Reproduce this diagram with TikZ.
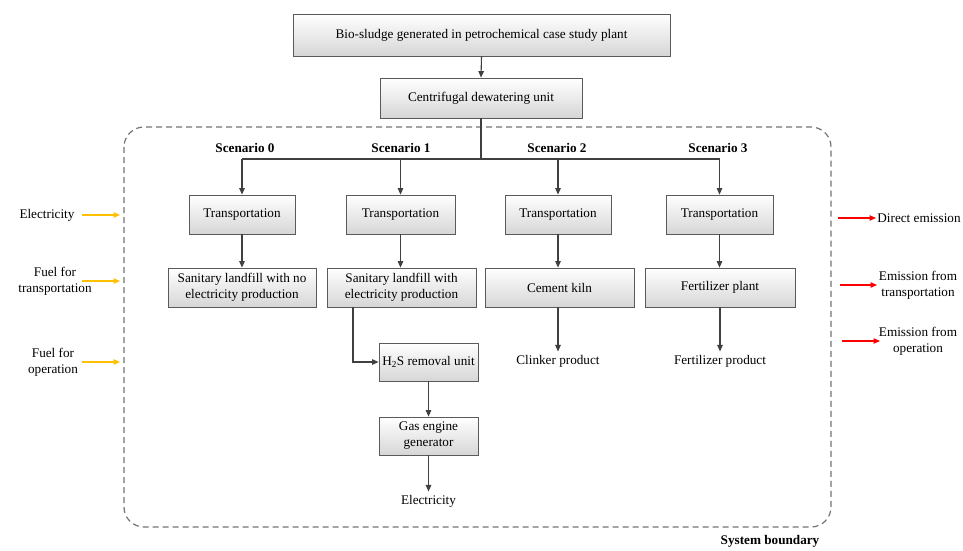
\documentclass[tikz,border=0pt]{standalone}
\usepackage{fontspec}
\setmainfont{Liberation Serif}
\usetikzlibrary{arrows.meta,shadows}
\definecolor{boxline}{HTML}{5A5A5A}
\definecolor{conn}{HTML}{404040}
\definecolor{inflow}{HTML}{FFC000}
\definecolor{outflow}{HTML}{FF0000}
\tikzset{
  x=1pt, y=-1pt,
  every node/.style={font=\fontsize{13.2}{16}\selectfont, align=center},
  procbox/.style={draw=boxline, line width=0.8pt, top color=white, bottom color=black!16,
    inner sep=0pt, minimum height=39pt,
    drop shadow={shadow xshift=1.2pt, shadow yshift=-1.2pt, fill=black!30, opacity=0.6}},
  arr/.style={draw=conn, line width=1.1pt, -{Triangle[length=6.5pt,width=5.5pt]}},
  link/.style={draw=conn, line width=1.1pt},
  inarr/.style={draw=inflow, line width=1.2pt, -{Triangle[length=6.5pt,width=5.5pt]}},
  outarr/.style={draw=outflow, line width=1.2pt, -{Triangle[length=6.5pt,width=5.5pt]}},
  scen/.style={font=\fontsize{13.2}{16}\selectfont\bfseries},
  boundary/.style={draw=black!55, line width=1.2pt, dash pattern=on 6pt off 4pt, rounded corners=20pt}
}
\begin{document}
\begin{tikzpicture}
\useasboundingbox (0,0) rectangle (963,550);

% system boundary
\draw[boundary] (124,127) rectangle (831,527);
\node[scen] (sysb) at (770,541) {System boundary};

% main chain
\node[procbox, minimum width=377pt, minimum height=42pt] (src) at (481.5,35) {Bio-sludge generated in petrochemical case study plant};
\node[procbox, minimum width=202pt, minimum height=40pt] (dew) at (481,98) {Centrifugal dewatering unit};
\draw[arr] (src.south) -- (dew.north);

% scenario labels
\node[scen] (s0) at (245,148) {Scenario 0};
\node[scen] (s1) at (401,148) {Scenario 1};
\node[scen] (s2) at (557,148) {Scenario 2};
\node[scen] (s3) at (718,148) {Scenario 3};

% transportation boxes
\node[procbox, minimum width=106pt] (t0) at (242,214.5) {Transportation};
\node[procbox, minimum width=109pt] (t1) at (400.5,214.5) {Transportation};
\node[procbox, minimum width=106pt] (t2) at (558,214.5) {Transportation};
\node[procbox, minimum width=107pt] (t3) at (719.5,214.5) {Transportation};

% branching line
\coordinate (b0) at (242,159);
\coordinate (b1) at (400.5,159);
\coordinate (b2) at (558,159);
\coordinate (b3) at (719.5,159);
\draw[link] (dew.south) -- (dew.south |- b0);
\draw[link] (b0) -- (b3);
\draw[arr] (b0) -- (t0.north);
\draw[arr] (b1) -- (t1.north);
\draw[arr] (b2) -- (t2.north);
\draw[arr] (b3) -- (t3.north);

% treatment boxes
\node[procbox, minimum width=148pt] (l0) at (242,287.5) {Sanitary landfill with no\\electricity production};
\node[procbox, minimum width=149pt] (l1) at (401.5,287.5) {Sanitary landfill with\\electricity production};
\node[procbox, minimum width=149pt] (l2) at (559.5,287.5) {Cement kiln};
\node[procbox, minimum width=150pt] (l3) at (720,287.5) {Fertilizer plant};
\draw[arr] (t0.south) -- (t0.south |- l0.north);
\draw[arr] (t1.south) -- (t1.south |- l1.north);
\draw[arr] (t2.south) -- (t2.south |- l2.north);
\draw[arr] (t3.south) -- (t3.south |- l3.north);

% biogas line of scenario 1
\node[procbox, minimum width=99pt, minimum height=38pt] (h2s) at (428.5,362) {H\textsubscript{2}S removal unit};
\node[procbox, minimum width=99pt, minimum height=38pt] (gas) at (428.5,436) {Gas engine\\generator};
\coordinate (tap) at (353,307);
\draw[arr] (l1.south -| tap) |- (h2s.west);
\draw[arr] (h2s.south -| gas.north) -- (gas.north);
\node (elec) at (428.5,501) {Electricity};
\draw[arr] (gas.south) -- (elec.north);

% products
\node (clk) at (558,361) {Clinker product};
\node (fpr) at (720,361) {Fertilizer product};
\draw[arr] (l2.south -| clk.north) -- (clk.north);
\draw[arr] (l3.south) -- (fpr.north);

% inputs crossing the boundary
\node (iel) at (47,215) {Electricity};
\node (ift) at (55,281) {Fuel for\\transportation};
\node (ifo) at (53,362) {Fuel for\\operation};
\coordinate (ia1) at (82,215);  \coordinate (ib1) at (120,215);
\coordinate (ia2) at (82,281);  \coordinate (ib2) at (120,281);
\coordinate (ia3) at (82,362);  \coordinate (ib3) at (120,362);
\draw[inarr] (ia1) -- (ib1);
\draw[inarr] (ia2) -- (ib2);
\draw[inarr] (ia3) -- (ib3);

% outputs crossing the boundary
\node (ode) at (919,218) {Direct emission};
\node (oet) at (918,285) {Emission from\\transportation};
\node (oeo) at (918,341) {Emission from\\operation};
\coordinate (oa1) at (838,218);  \coordinate (ob1) at (876,218);
\coordinate (oa2) at (840,285);  \coordinate (ob2) at (877,285);
\coordinate (oa3) at (842,341);  \coordinate (ob3) at (880,341);
\draw[outarr] (oa1) -- (ob1);
\draw[outarr] (oa2) -- (ob2);
\draw[outarr] (oa3) -- (ob3);
\end{tikzpicture}
\end{document}
